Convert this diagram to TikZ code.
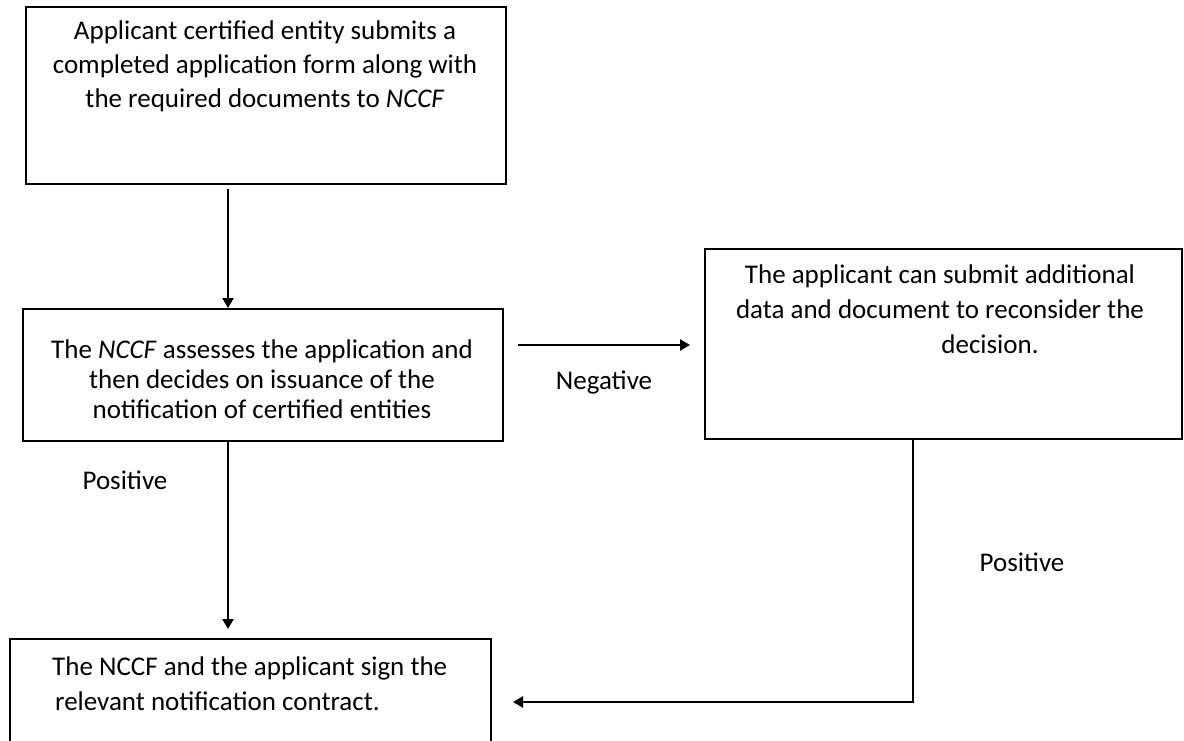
\documentclass[tikz,border=0pt]{standalone}
\usepackage{fontspec}
\setmainfont{Carlito}
\usetikzlibrary{arrows.meta}
\begin{document}
\begin{tikzpicture}[x=1pt,y=-1pt,
  box/.style={draw=black, line width=1.8pt, inner sep=0pt},
  txt/.style={font=\fontsize{27}{34}\selectfont, inner sep=0pt, align=center, anchor=north},
  lab/.style={font=\fontsize{27}{34}\selectfont, inner sep=0pt},
  conn/.style={line width=2.6pt, -{Triangle[length=10pt,width=11pt]}}]
\useasboundingbox (0,0) rectangle (1184,741);
\clip (0,0) rectangle (1184,741);
\fill[white] (0,0) rectangle (1184,741);
% boxes
\node[box, minimum width=480pt, minimum height=177pt, anchor=north west] (b1) at (25,6) {};
\node[box, minimum width=480pt, minimum height=132pt, anchor=north west] (b2) at (22,308) {};
\node[box, minimum width=477pt, minimum height=190pt, anchor=north west] (b3) at (704,248) {};
\node[box, minimum width=481pt, minimum height=140pt, anchor=north west] (b4) at (9,638) {};
% texts
\node[txt] (t1) at (265,21) {Applicant certified entity submits a\\completed application form along with\\the required documents to \textit{NCCF}};
\node[txt, font=\fontsize{27}{30}\selectfont] (t2) at (262,340) {The \textit{NCCF} assesses the application and\\then decides on issuance of the\\notification of certified entities};
\node[txt, font=\fontsize{27}{35}\selectfont] (t3) at (940,265) {The applicant can submit additional\\data and document to reconsider the\\\hspace*{100pt}decision.};
\node[txt, align=left, anchor=north west, font=\fontsize{27}{35}\selectfont] (t4) at (52,657) {The NCCF and the applicant sign the\\\hspace*{3pt}relevant notification contract.};
% labels
\node[lab] (neg) at (604,382) {Negative};
\node[lab] (pos1) at (125,480) {Positive};
\node[lab] (pos2) at (1022,562) {Positive};
% connectors
\coordinate (a1s) at (228,189);
\draw[conn] (a1s) -- (a1s |- b2.north);
\coordinate (a2e) at (228,629);
\draw[conn] (b2.south -| a2e) -- (a2e);
\coordinate (n1) at (518,345);
\coordinate (n2) at (690,345);
\draw[conn] (n1) -- (n2);
\coordinate (p1) at (913,0);
\coordinate (p2) at (513,702);
\draw[conn] (b3.south -| p1) |- (p2);
\end{tikzpicture}
\end{document}
